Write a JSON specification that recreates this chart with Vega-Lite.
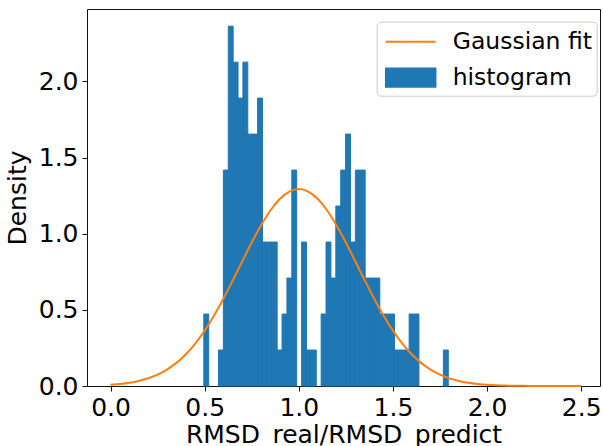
{
  "$schema": "https://vega.github.io/schema/vega-lite/v6.json",
  "width": 513,
  "height": 377,
  "autosize": {"type": "none"},
  "padding": {"left": 87, "top": 9, "right": 3, "bottom": 60},
  "background": "white",
  "config": {
    "font": "DejaVu Sans",
    "view": {"stroke": "#111111", "strokeWidth": 1},
    "axis": {
      "grid": false,
      "domain": false,
      "tickColor": "#111111",
      "tickWidth": 1,
      "tickSize": 5,
      "labelFont": "DejaVu Sans",
      "labelFontSize": 25,
      "labelColor": "black",
      "titleFont": "DejaVu Sans",
      "titleFontSize": 25,
      "titleFontWeight": "normal",
      "titleColor": "black"
    },
    "legend": {
      "orient": "none",
      "labelFont": "DejaVu Sans",
      "labelFontSize": 23.5,
      "labelColor": "black",
      "padding": 4,
      "symbolSize": 900,
      "symbolOffset": 14,
      "labelOffset": 26,
      "rowPadding": 5
    }
  },
  "datasets": {
    "hist": [
      {"start": 0.4955, "end": 0.5215, "density": 0.4725, "series": "histogram"},
      {"start": 0.5734, "end": 0.5994, "density": 0.2362, "series": "histogram"},
      {"start": 0.5994, "end": 0.6254, "density": 1.4174, "series": "histogram"},
      {"start": 0.6254, "end": 0.6513, "density": 2.3624, "series": "histogram"},
      {"start": 0.6513, "end": 0.6773, "density": 2.1262, "series": "histogram"},
      {"start": 0.6773, "end": 0.7033, "density": 1.8899, "series": "histogram"},
      {"start": 0.7033, "end": 0.7292, "density": 2.1262, "series": "histogram"},
      {"start": 0.7292, "end": 0.7552, "density": 1.6537, "series": "histogram"},
      {"start": 0.7552, "end": 0.7812, "density": 1.6537, "series": "histogram"},
      {"start": 0.7812, "end": 0.8071, "density": 1.8899, "series": "histogram"},
      {"start": 0.8071, "end": 0.8331, "density": 0.9450, "series": "histogram"},
      {"start": 0.8331, "end": 0.8591, "density": 0.9450, "series": "histogram"},
      {"start": 0.8591, "end": 0.8851, "density": 0.9450, "series": "histogram"},
      {"start": 0.8851, "end": 0.9110, "density": 0.2362, "series": "histogram"},
      {"start": 0.9110, "end": 0.9370, "density": 0.4725, "series": "histogram"},
      {"start": 0.9370, "end": 0.9630, "density": 0.7087, "series": "histogram"},
      {"start": 0.9630, "end": 0.9889, "density": 1.4174, "series": "histogram"},
      {"start": 1.0149, "end": 1.0409, "density": 0.9450, "series": "histogram"},
      {"start": 1.0409, "end": 1.0668, "density": 0.2362, "series": "histogram"},
      {"start": 1.0668, "end": 1.0928, "density": 0.2362, "series": "histogram"},
      {"start": 1.1188, "end": 1.1448, "density": 0.4725, "series": "histogram"},
      {"start": 1.1448, "end": 1.1707, "density": 0.9450, "series": "histogram"},
      {"start": 1.1707, "end": 1.1967, "density": 0.7087, "series": "histogram"},
      {"start": 1.1967, "end": 1.2227, "density": 1.1812, "series": "histogram"},
      {"start": 1.2227, "end": 1.2486, "density": 1.4174, "series": "histogram"},
      {"start": 1.2486, "end": 1.2746, "density": 1.6537, "series": "histogram"},
      {"start": 1.2746, "end": 1.3006, "density": 0.9450, "series": "histogram"},
      {"start": 1.3006, "end": 1.3265, "density": 1.4174, "series": "histogram"},
      {"start": 1.3265, "end": 1.3525, "density": 1.4174, "series": "histogram"},
      {"start": 1.3525, "end": 1.3785, "density": 0.7087, "series": "histogram"},
      {"start": 1.3785, "end": 1.4045, "density": 0.7087, "series": "histogram"},
      {"start": 1.4045, "end": 1.4304, "density": 0.7087, "series": "histogram"},
      {"start": 1.4304, "end": 1.4564, "density": 0.4725, "series": "histogram"},
      {"start": 1.4564, "end": 1.4824, "density": 0.4725, "series": "histogram"},
      {"start": 1.4824, "end": 1.5083, "density": 0.4725, "series": "histogram"},
      {"start": 1.5083, "end": 1.5343, "density": 0.2362, "series": "histogram"},
      {"start": 1.5343, "end": 1.5603, "density": 0.2362, "series": "histogram"},
      {"start": 1.5603, "end": 1.5862, "density": 0.2362, "series": "histogram"},
      {"start": 1.5862, "end": 1.6122, "density": 0.4725, "series": "histogram"},
      {"start": 1.6122, "end": 1.6382, "density": 0.4725, "series": "histogram"},
      {"start": 1.7680, "end": 1.7940, "density": 0.2362, "series": "histogram"}
    ],
    "fit": [
      {"x": 0.00, "y": 0.0081, "series": "Gaussian fit"},
      {"x": 0.05, "y": 0.0133, "series": "Gaussian fit"},
      {"x": 0.10, "y": 0.0213, "series": "Gaussian fit"},
      {"x": 0.15, "y": 0.0331, "series": "Gaussian fit"},
      {"x": 0.20, "y": 0.0504, "series": "Gaussian fit"},
      {"x": 0.25, "y": 0.0746, "series": "Gaussian fit"},
      {"x": 0.30, "y": 0.1077, "series": "Gaussian fit"},
      {"x": 0.35, "y": 0.1517, "series": "Gaussian fit"},
      {"x": 0.40, "y": 0.2083, "series": "Gaussian fit"},
      {"x": 0.45, "y": 0.2788, "series": "Gaussian fit"},
      {"x": 0.50, "y": 0.3639, "series": "Gaussian fit"},
      {"x": 0.55, "y": 0.4630, "series": "Gaussian fit"},
      {"x": 0.60, "y": 0.5744, "series": "Gaussian fit"},
      {"x": 0.65, "y": 0.6947, "series": "Gaussian fit"},
      {"x": 0.70, "y": 0.8192, "series": "Gaussian fit"},
      {"x": 0.75, "y": 0.9418, "series": "Gaussian fit"},
      {"x": 0.80, "y": 1.0556, "series": "Gaussian fit"},
      {"x": 0.85, "y": 1.1536, "series": "Gaussian fit"},
      {"x": 0.90, "y": 1.2291, "series": "Gaussian fit"},
      {"x": 0.95, "y": 1.2767, "series": "Gaussian fit"},
      {"x": 1.00, "y": 1.2930, "series": "Gaussian fit"},
      {"x": 1.05, "y": 1.2767, "series": "Gaussian fit"},
      {"x": 1.10, "y": 1.2291, "series": "Gaussian fit"},
      {"x": 1.15, "y": 1.1536, "series": "Gaussian fit"},
      {"x": 1.20, "y": 1.0556, "series": "Gaussian fit"},
      {"x": 1.25, "y": 0.9418, "series": "Gaussian fit"},
      {"x": 1.30, "y": 0.8192, "series": "Gaussian fit"},
      {"x": 1.35, "y": 0.6947, "series": "Gaussian fit"},
      {"x": 1.40, "y": 0.5744, "series": "Gaussian fit"},
      {"x": 1.45, "y": 0.4630, "series": "Gaussian fit"},
      {"x": 1.50, "y": 0.3639, "series": "Gaussian fit"},
      {"x": 1.55, "y": 0.2788, "series": "Gaussian fit"},
      {"x": 1.60, "y": 0.2083, "series": "Gaussian fit"},
      {"x": 1.65, "y": 0.1517, "series": "Gaussian fit"},
      {"x": 1.70, "y": 0.1077, "series": "Gaussian fit"},
      {"x": 1.75, "y": 0.0746, "series": "Gaussian fit"},
      {"x": 1.80, "y": 0.0504, "series": "Gaussian fit"},
      {"x": 1.85, "y": 0.0331, "series": "Gaussian fit"},
      {"x": 1.90, "y": 0.0213, "series": "Gaussian fit"},
      {"x": 1.95, "y": 0.0133, "series": "Gaussian fit"},
      {"x": 2.00, "y": 0.0081, "series": "Gaussian fit"},
      {"x": 2.05, "y": 0.0048, "series": "Gaussian fit"},
      {"x": 2.10, "y": 0.0028, "series": "Gaussian fit"},
      {"x": 2.15, "y": 0.0016, "series": "Gaussian fit"},
      {"x": 2.20, "y": 0.0009, "series": "Gaussian fit"},
      {"x": 2.25, "y": 0.0005, "series": "Gaussian fit"},
      {"x": 2.30, "y": 0.0002, "series": "Gaussian fit"},
      {"x": 2.35, "y": 0.0001, "series": "Gaussian fit"},
      {"x": 2.40, "y": 0.00005, "series": "Gaussian fit"},
      {"x": 2.45, "y": 0.00002, "series": "Gaussian fit"},
      {"x": 2.50, "y": 0.00001, "series": "Gaussian fit"}
    ]
  },
  "layer": [
    {
      "data": {"name": "hist"},
      "mark": {"type": "bar", "stroke": "#1f77b4", "strokeWidth": 1, "cornerRadius": 0, "opacity": 1, "fillOpacity": 1, "strokeOpacity": 1},
      "encoding": {
        "x": {
          "field": "start", "type": "quantitative",
          "scale": {"domain": [-0.125, 2.6], "nice": false, "zero": false},
          "axis": {"values": [0, 0.5, 1, 1.5, 2, 2.5], "format": ".1f", "labelPadding": 4, "title": "RMSD_real/RMSD_predict", "titlePadding": 2}
        },
        "x2": {"field": "end"},
        "y": {
          "field": "density", "type": "quantitative",
          "scale": {"domain": [0, 2.475], "nice": false},
          "axis": {"values": [0, 0.5, 1, 1.5, 2], "format": ".1f", "labelPadding": 4, "title": "Density", "titlePadding": 8}
        },
        "y2": {"datum": 0},
        "fill": {
          "field": "series", "type": "nominal",
          "scale": {"domain": ["histogram"], "range": ["#1f77b4"]},
          "legend": {
            "title": null,
            "legendX": 289.7,
            "legendY": 48.7,
            "symbolType": "M-1.667,-0.623H1.667V0.623H-1.667Z",
            "strokeColor": "transparent",
            "fillColor": "transparent"
          }
        }
      }
    },
    {
      "data": {"name": "fit"},
      "mark": {"type": "line", "strokeWidth": 2, "interpolate": "monotone"},
      "encoding": {
        "x": {"field": "x", "type": "quantitative"},
        "y": {"field": "y", "type": "quantitative"},
        "stroke": {
          "field": "series", "type": "nominal",
          "scale": {"domain": ["Gaussian fit"], "range": ["#ff7f0e"]},
          "legend": {
            "title": "\u00a0",
            "titleOrient": "bottom",
            "titleFontSize": 30,
            "titlePadding": 8,
            "legendX": 289.7,
            "legendY": 12.7,
            "symbolType": "M-1.667,0H1.667",
            "symbolStrokeWidth": 2,
            "strokeColor": "#cccccc",
            "fillColor": "transparent",
            "cornerRadius": 4
          }
        }
      }
    }
  ]
}
